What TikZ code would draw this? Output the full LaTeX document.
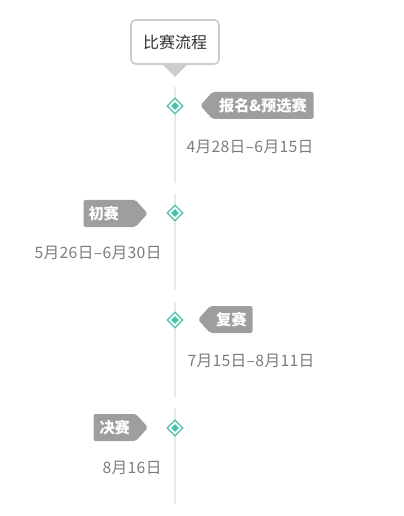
\documentclass[tikz,border=0pt]{standalone}
\usepackage{fontspec}
\setmainfont{Noto Sans CJK SC}
\usetikzlibrary{positioning,shapes.geometric,shapes.symbols,calc}
\definecolor{tagGray}{RGB}{158,158,158}
\definecolor{dateGray}{RGB}{125,125,125}
\definecolor{spineLav}{RGB}{230,233,243}
\definecolor{markTeal}{RGB}{74,192,166}
\definecolor{boxLine}{RGB}{204,204,204}
\tikzset{every picture/.style={line width=0.75pt}}
\tikzset{
  titlebox/.style={draw=boxLine, line width=1.2pt, rounded corners=3.5pt, fill=white, minimum width=66pt, minimum height=33pt, inner sep=0pt, font=\fontsize{12}{14}\selectfont, text=black!80},
  spine/.style={draw=spineLav, line width=2.2pt},
  markout/.style={diamond, draw=markTeal, line width=0.9pt, fill=white, minimum size=12pt, inner sep=0pt},
  markin/.style={diamond, fill=markTeal, minimum size=6pt, inner sep=0pt},
  tagw/.style={signal, signal to=west, signal pointer angle=96, fill=tagGray, rounded corners=1.5pt, text=white, font=\fontsize{11.4}{13}\selectfont\bfseries, inner xsep=4.5pt, inner ysep=0pt, minimum height=20.25pt},
  tage/.style={tagw, signal to=east},
  datetext/.style={text=dateGray, font=\fontsize{11.8}{14}\selectfont\addfontfeature{LetterSpace=2}, inner sep=0pt}
}
\begin{document}
\begin{tikzpicture}[x=0.75pt,y=0.75pt,yscale=-1,xscale=1]
	\useasboundingbox (0,0) rectangle (403,516);
	
	% spine
	\foreach \a/\b in {87/183,194/290,302/397,408/504}
		\draw [spine] (175,\a) -- (175,\b);
	
	% title
	\node [titlebox] (title) at (175,42) {比赛流程};
	\fill [boxLine] ($(title.south)+(-12,0)$) -- ($(title.south)+(12,0)$) -- ($(title.south)+(0,12)$) -- cycle;
	
	% stage markers
	\node [markout] (m1) at (175,106) {};
	\node [markin] at (m1) {};
	\node [markout] (m2) at (175,213) {};
	\node [markin] at (m2) {};
	\node [markout] (m3) at (175,320) {};
	\node [markin] at (m3) {};
	\node [markout] (m4) at (175,428) {};
	\node [markin] at (m4) {};
	
	% stage tags
	\node [tagw, anchor=east, inner xsep=5pt] (bm) at (314,105.5) {报名\&预选赛};
	\node [tage, anchor=west, inner xsep=3.75pt, text width=31.5pt, align=left] (cs) at (83,213.5) {初赛};
	\node [tagw, anchor=east] (fs) at (253,319.5) {复赛};
	\node [tage, anchor=west] (js) at (93,427.5) {决赛};
	
	% dates
	\node [datetext, anchor=west] (d1) at (186,147) {4月28日–6月15日};
	\node [datetext, anchor=east] (d2) at (162,253) {5月26日–6月30日};
	\node [datetext, anchor=west] (d3) at (187,361) {7月15日–8月11日};
	\node [datetext, anchor=east] (d4) at (162,468) {8月16日};
	
\end{tikzpicture}
\end{document}
